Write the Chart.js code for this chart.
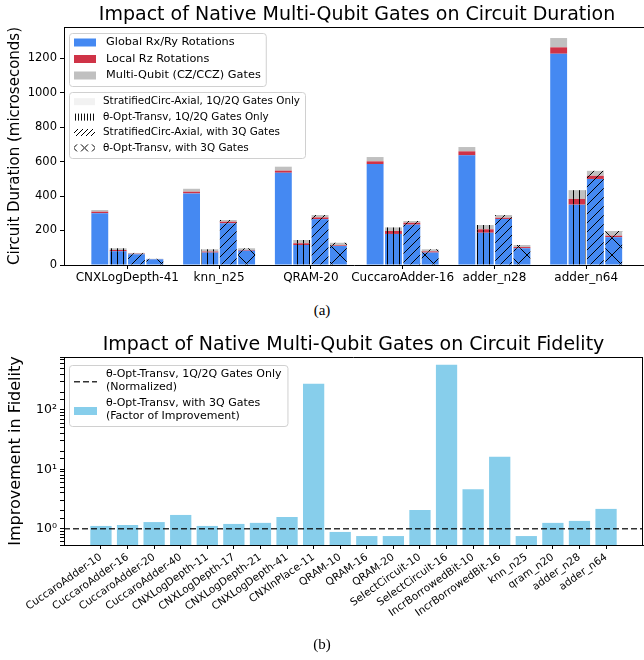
<!DOCTYPE html>
<html>
<head>
<meta charset="utf-8">
<script src="https://cdn.jsdelivr.net/npm/chart.js@4.4.1/dist/chart.umd.min.js"></script>
<style>
body { margin: 0; background: #fff; width: 644px; height: 660px; overflow: hidden; position: relative; }
#topWrap { position: absolute; left: 0; top: 0; }
#botWrap { position: absolute; left: 0; top: 330px; }
.cap { position: absolute; left: 0; width: 644px; text-align: center; font-family: "Liberation Serif", serif; font-size: 15px; color: #000; }
</style>
</head>
<body>
<div id="topWrap"><canvas id="durationChart" width="644" height="292"></canvas></div>
<div id="botWrap"><canvas id="fidelityChart" width="644" height="330"></canvas></div>
<div class="cap" style="top:302px">(a)</div>
<div class="cap" style="top:636px">(b)</div>
<script>
// ---- (a) circuit duration, microseconds ----
const groups = ['CNXLogDepth-41', 'knn_n25', 'QRAM-20', 'CuccaroAdder-16', 'adder_n28', 'adder_n64'];
const gateParts = ['Global Rx/Ry Rotations', 'Local Rz Rotations', 'Multi-Qubit (CZ/CCZ) Gates'];
const variants = ['StratifiedCirc-Axial, 1Q/2Q Gates Only', 'θ-Opt-Transv, 1Q/2Q Gates Only',
                  'StratifiedCirc-Axial, with 3Q Gates', 'θ-Opt-Transv, with 3Q Gates'];

const axial2qGlobal = [300, 415, 535, 585, 636, 1225];
const axial2qLocal  = [9, 10, 12, 16, 23, 37];
const axial2qMulti  = [10, 17, 23, 25, 25, 54];
const transv2qGlobal = [80, 72, 116, 180, 187, 350];
const transv2qLocal  = [7, 6, 10, 17, 20, 33];
const transv2qMulti  = [10, 13, 19, 21, 25, 51];
const axial3qGlobal = [62, 242, 266, 234, 267, 499];
const axial3qLocal  = [3, 9, 10, 11, 7, 18];
const axial3qMulti  = [5, 10, 14, 10, 16, 29];
const transv3qGlobal = [33, 83, 110, 72, 97, 161];
const transv3qLocal  = [1, 4, 4, 7, 7, 9];
const transv3qMulti  = [2, 10, 15, 12, 12, 27];

const durationTicks = [0, 200, 400, 600, 800, 1000, 1200];

// ---- (b) fidelity improvement ----
const circuits = ['CuccaroAdder-10', 'CuccaroAdder-16', 'CuccaroAdder-20', 'CuccaroAdder-40',
  'CNXLogDepth-11', 'CNXLogDepth-17', 'CNXLogDepth-21', 'CNXLogDepth-41', 'CNXInPlace-11',
  'QRAM-10', 'QRAM-16', 'QRAM-20', 'SelectCircuit-10', 'SelectCircuit-16',
  'IncrBorrowedBit-10', 'IncrBorrowedBit-16', 'knn_n25', 'qram_n20', 'adder_n28', 'adder_n64'];
const fidelityGain = [1.11, 1.15, 1.29, 1.70, 1.11, 1.20, 1.25, 1.57, 275, 0.88,
                      0.75, 0.75, 2.06, 575, 4.6, 16.2, 0.75, 1.25, 1.35, 2.15];
const normalizedBaseline = 1;
const fidelityLegend = [['θ-Opt-Transv, 1Q/2Q Gates Only', '(Normalized)'],
                        ['θ-Opt-Transv, with 3Q Gates', '(Factor of Improvement)']];

const partColors = ['#4589f2', '#cf3347', '#c0c0c0'];
const FONT = '"DejaVu Sans", sans-serif';

function hatchPattern(fill, kind, size, shiftX, shiftY) {
  const c = document.createElement('canvas');
  c.width = size; c.height = size;
  const g = c.getContext('2d');
  g.fillStyle = fill;
  g.fillRect(0, 0, size, size);
  if (kind) {
    g.strokeStyle = '#000';
    g.lineWidth = 1;
    g.beginPath();
    if (kind === '|') {
      g.moveTo(Math.floor(size / 2) + 0.5, 0); g.lineTo(Math.floor(size / 2) + 0.5, size);
    }
    if (kind === '/' || kind === 'x') {
      g.moveTo(-1, size + 1); g.lineTo(size + 1, -1);
      g.moveTo(-1, 1); g.lineTo(1, -1);
      g.moveTo(size - 1, size + 1); g.lineTo(size + 1, size - 1);
    }
    if (kind === 'x') {
      g.moveTo(-1, -1); g.lineTo(size + 1, size + 1);
      g.moveTo(size - 1, -1); g.lineTo(size + 1, 1);
      g.moveTo(-1, size - 1); g.lineTo(1, size + 1);
    }
    g.stroke();
  }
  const pat = g.createPattern(c, 'repeat');
  if (shiftX || shiftY) pat.setTransform(new DOMMatrix().translate(shiftX || 0, shiftY || 0));
  return pat;
}

function legendFrame(ctx, x, y, w, h) {
  ctx.beginPath();
  ctx.roundRect(x + 0.5, y + 0.5, w, h, 3);
  ctx.fillStyle = 'rgba(255,255,255,0.8)';
  ctx.fill();
  ctx.strokeStyle = '#d0d0d0';
  ctx.lineWidth = 1;
  ctx.stroke();
}

// titles, frames and legends drawn on top of each chart
const decor = {
  id: 'decor',
  afterDraw(chart, args, opts) {
    const ctx = chart.ctx, a = chart.chartArea;
    ctx.save();
    ctx.strokeStyle = '#000';
    ctx.lineWidth = 1;
    ctx.beginPath();
    ctx.moveTo(a.left, Math.round(a.top) + 0.5);
    ctx.lineTo(opts.closeRight ? a.right : chart.width, Math.round(a.top) + 0.5);
    if (opts.closeRight) {
      ctx.moveTo(Math.round(a.right) - 0.5, a.top);
      ctx.lineTo(Math.round(a.right) - 0.5, a.bottom);
    }
    ctx.stroke();
    ctx.fillStyle = '#000';
    ctx.font = '19px ' + FONT;
    ctx.textAlign = 'center';
    ctx.textBaseline = 'middle';
    ctx.fillText(opts.title, (a.left + opts.titleRight) / 2, opts.titleY);
    opts.legend(ctx);
    ctx.restore();
  }
};

const durationData = [
  [axial2qGlobal, axial2qLocal, axial2qMulti],
  [transv2qGlobal, transv2qLocal, transv2qMulti],
  [axial3qGlobal, axial3qLocal, axial3qMulti],
  [transv3qGlobal, transv3qLocal, transv3qMulti]
];
const barHatch = [[null, 4], ['|', 6], ['/', 9], ['x', 17]];
const legendHatch = [[null, 4], ['|', 3], ['/', 5], ['x', 11]];

const durationSets = [];
durationData.forEach((parts, v) => {
  parts.forEach((vals, p) => {
    durationSets.push({
      label: gateParts[p],
      data: vals.map((y, i) => ({ x: i, y: y })),
      stack: 'v' + v,
      backgroundColor: hatchPattern(partColors[p], barHatch[v][0], barHatch[v][1]),
      borderWidth: 0,
      categoryPercentage: 0.8,
      barPercentage: 0.92
    });
  });
});

new Chart(document.getElementById('durationChart'), {
  type: 'bar',
  data: { datasets: durationSets },
  options: {
    responsive: false,
    animation: false,
    layout: { padding: { top: 27, left: 0, right: 0, bottom: 0 } },
    scales: {
      x: {
        type: 'linear', stacked: true, offset: false,
        min: -0.69, max: 5.63,
        grid: { display: true, offset: false, drawOnChartArea: false, tickLength: 4, tickColor: '#000' },
        border: { color: '#000', width: 1 },
        afterBuildTicks: s => { s.ticks = groups.map((g, i) => ({ value: i })); },
        afterFit: s => { s.height = 27; },
        ticks: {
          autoSkip: false, maxRotation: 0, padding: 2, color: '#000',
          font: { family: FONT, size: 12 },
          callback: v => groups[v]
        }
      },
      y: {
        stacked: true, min: 0, max: 1380,
        grid: { display: true, drawOnChartArea: false, tickLength: 4, tickColor: '#000' },
        border: { color: '#000', width: 1 },
        afterBuildTicks: s => { s.ticks = durationTicks.map(t => ({ value: t })); },
        afterFit: s => { s.width = 64; },
        ticks: { color: '#000', padding: 3, font: { family: FONT, size: 11.5 }, callback: v => String(v) },
        title: {
          display: true, text: 'Circuit Duration (microseconds)', color: '#000',
          font: { family: FONT, size: 15 }, padding: { top: 6, bottom: 0 }
        }
      }
    },
    plugins: {
      legend: { display: false },
      tooltip: { enabled: false },
      decor: {
        title: 'Impact of Native Multi-Qubit Gates on Circuit Duration',
        titleY: 15, titleRight: 650, closeRight: false,
        legend: ctx => {
          ctx.textAlign = 'left';
          ctx.textBaseline = 'middle';
          ctx.font = '11.3px ' + FONT;
          let w = Math.max(...gateParts.map(t => ctx.measureText(t).width));
          legendFrame(ctx, 69, 33, 106 + w + 5 - 69, 53);
          gateParts.forEach((t, i) => {
            const cy = 42.5 + i * 16.5;
            ctx.fillStyle = partColors[i];
            ctx.fillRect(74, cy - 4, 22, 8);
            ctx.fillStyle = '#000';
            ctx.fillText(t, 106, cy);
          });
          ctx.font = '10.4px ' + FONT;
          w = Math.max(...variants.map(t => ctx.measureText(t).width));
          legendFrame(ctx, 69, 92, 103 + w + 5 - 69, 66);
          variants.forEach((t, i) => {
            const cy = 101.7 + i * 15.4;
            const sz = legendHatch[i][1];
            ctx.fillStyle = i === 0 ? '#f2f2f2'
              : hatchPattern('#fff', legendHatch[i][0], sz, 84.5 - sz / 2, cy - sz / 2);
            ctx.fillRect(74, cy - 3.5, 21, 7);
            ctx.fillStyle = '#000';
            ctx.fillText(t, 103, cy);
          });
        }
      }
    }
  },
  plugins: [decor]
});

// ---- (b) ----
const fidXMin = -1.39, fidXMax = 20.39;

new Chart(document.getElementById('fidelityChart'), {
  type: 'bar',
  data: {
    datasets: [
      {
        type: 'line',
        label: fidelityLegend[0].join(' '),
        data: [{ x: fidXMin, y: normalizedBaseline }, { x: fidXMax, y: normalizedBaseline }],
        borderColor: 'rgba(0,0,0,0.8)',
        borderWidth: 1.5,
        borderDash: [6, 3],
        pointRadius: 0,
        order: 0
      },
      {
        label: fidelityLegend[1].join(' '),
        data: fidelityGain.map((y, i) => ({ x: i, y: y })),
        backgroundColor: '#87ceeb',
        categoryPercentage: 1,
        barPercentage: 0.8,
        order: 1
      }
    ]
  },
  options: {
    responsive: false,
    animation: false,
    layout: { padding: { top: 27, left: 0, right: 1, bottom: 0 } },
    scales: {
      x: {
        type: 'linear', offset: false, min: fidXMin, max: fidXMax,
        grid: { display: true, offset: false, drawOnChartArea: false, tickLength: 4, tickColor: '#000' },
        border: { color: '#000', width: 1 },
        afterBuildTicks: s => { s.ticks = circuits.map((c, i) => ({ value: i })); },
        afterFit: s => { s.height = 115; },
        ticks: {
          autoSkip: false, minRotation: 35, maxRotation: 35, padding: 2, color: '#000',
          font: { family: FONT, size: 10.5 },
          callback: v => circuits[v]
        }
      },
      y: {
        type: 'logarithmic', min: 0.53, max: 778,
        grid: { display: true, drawOnChartArea: false, tickLength: 4, tickColor: '#000' },
        border: { color: '#000', width: 1 },
        afterFit: s => { s.width = 64; },
        ticks: {
          autoSkip: false, color: '#000', padding: 3, font: { family: FONT, size: 12.5 },
          callback: v => {
            const e = Math.log10(v);
            if (Math.abs(e - Math.round(e)) > 1e-9) return '';
            return '10' + ['⁰', '¹', '²', '³'][Math.round(e)];
          }
        },
        title: {
          display: true, text: 'Improvement in Fidelity', color: '#000',
          font: { family: FONT, size: 16 }, padding: { top: 6, bottom: 0 }
        }
      }
    },
    plugins: {
      legend: { display: false },
      tooltip: { enabled: false },
      decor: {
        title: 'Impact of Native Multi-Qubit Gates on Circuit Fidelity',
        titleY: 15.5, titleRight: 643, closeRight: true,
        legend: ctx => {
          ctx.textAlign = 'left';
          ctx.textBaseline = 'middle';
          ctx.font = '11px ' + FONT;
          const w = Math.max(...fidelityLegend.flat().map(t => ctx.measureText(t).width));
          legendFrame(ctx, 69, 35, 106 + w + 6 - 69, 61);
          ctx.strokeStyle = 'rgba(0,0,0,0.8)';
          ctx.lineWidth = 1.5;
          ctx.setLineDash([6, 3]);
          ctx.beginPath();
          ctx.moveTo(74, 51.7); ctx.lineTo(97, 51.7);
          ctx.stroke();
          ctx.setLineDash([]);
          ctx.fillStyle = '#87ceeb';
          ctx.fillRect(74, 77, 23, 8);
          ctx.fillStyle = '#000';
          fidelityLegend.forEach((lines, i) => {
            lines.forEach((t, j) => ctx.fillText(t, 106, 44.5 + i * 29 + j * 12.5));
          });
        }
      }
    }
  },
  plugins: [decor]
});
</script>
</body>
</html>
